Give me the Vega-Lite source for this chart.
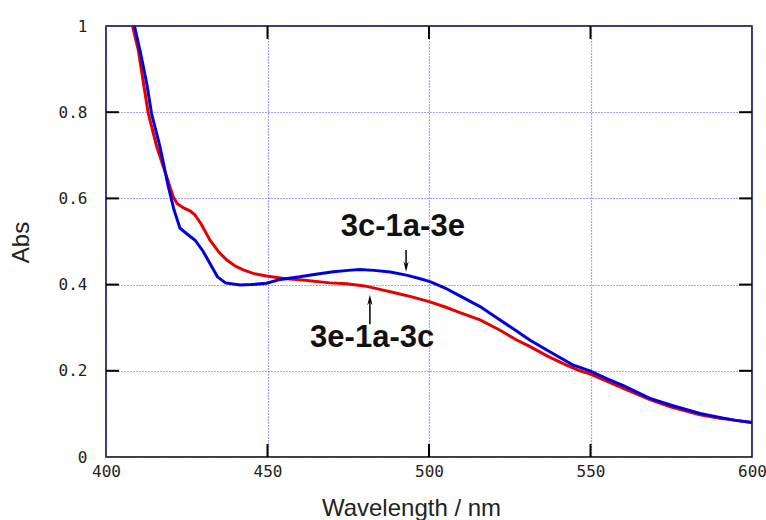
{
  "$schema": "https://vega.github.io/schema/vega-lite/v6.json",
  "autosize": "none",
  "width": 646,
  "height": 431,
  "padding": {"left": 106, "top": 26, "right": 14, "bottom": 63},
  "background": "white",
  "config": {
    "view": {"stroke": "black", "strokeWidth": 1.5},
    "axis": {
      "domain": false,
      "ticks": false,
      "labelFont": "DejaVu Sans Mono",
      "labelFontSize": 16,
      "labelColor": "#222",
      "labelFlush": false,
      "titleFont": "Liberation Sans",
      "titleFontSize": 24,
      "titleFontWeight": "normal",
      "titleColor": "#222"
    }
  },
  "datasets": {
    "spectra": [
      {"series": "3e-1a-3c", "wl": 408.2, "abs": 1.0},
      {"series": "3e-1a-3c", "wl": 410.0, "abs": 0.944},
      {"series": "3e-1a-3c", "wl": 411.6, "abs": 0.867},
      {"series": "3e-1a-3c", "wl": 413.1, "abs": 0.797},
      {"series": "3e-1a-3c", "wl": 415.7, "abs": 0.72},
      {"series": "3e-1a-3c", "wl": 418.8, "abs": 0.65},
      {"series": "3e-1a-3c", "wl": 420.8, "abs": 0.604},
      {"series": "3e-1a-3c", "wl": 422.0, "abs": 0.588},
      {"series": "3e-1a-3c", "wl": 424.0, "abs": 0.578},
      {"series": "3e-1a-3c", "wl": 426.0, "abs": 0.571},
      {"series": "3e-1a-3c", "wl": 427.5, "abs": 0.562},
      {"series": "3e-1a-3c", "wl": 429.5, "abs": 0.54},
      {"series": "3e-1a-3c", "wl": 432.2, "abs": 0.503},
      {"series": "3e-1a-3c", "wl": 435.0, "abs": 0.475},
      {"series": "3e-1a-3c", "wl": 437.4, "abs": 0.457},
      {"series": "3e-1a-3c", "wl": 440.0, "abs": 0.443},
      {"series": "3e-1a-3c", "wl": 442.5, "abs": 0.434},
      {"series": "3e-1a-3c", "wl": 446.0, "abs": 0.425},
      {"series": "3e-1a-3c", "wl": 449.7, "abs": 0.42},
      {"series": "3e-1a-3c", "wl": 455.0, "abs": 0.414},
      {"series": "3e-1a-3c", "wl": 460.0, "abs": 0.411},
      {"series": "3e-1a-3c", "wl": 469.3, "abs": 0.404},
      {"series": "3e-1a-3c", "wl": 474.5, "abs": 0.402},
      {"series": "3e-1a-3c", "wl": 480.0, "abs": 0.397},
      {"series": "3e-1a-3c", "wl": 484.8, "abs": 0.389},
      {"series": "3e-1a-3c", "wl": 490.0, "abs": 0.38},
      {"series": "3e-1a-3c", "wl": 495.0, "abs": 0.371},
      {"series": "3e-1a-3c", "wl": 500.3, "abs": 0.36},
      {"series": "3e-1a-3c", "wl": 505.0, "abs": 0.348},
      {"series": "3e-1a-3c", "wl": 510.0, "abs": 0.334},
      {"series": "3e-1a-3c", "wl": 515.8, "abs": 0.318},
      {"series": "3e-1a-3c", "wl": 522.0, "abs": 0.294},
      {"series": "3e-1a-3c", "wl": 527.0, "abs": 0.272},
      {"series": "3e-1a-3c", "wl": 531.3, "abs": 0.256},
      {"series": "3e-1a-3c", "wl": 537.0, "abs": 0.233},
      {"series": "3e-1a-3c", "wl": 542.6, "abs": 0.213},
      {"series": "3e-1a-3c", "wl": 546.7, "abs": 0.2},
      {"series": "3e-1a-3c", "wl": 549.8, "abs": 0.193},
      {"series": "3e-1a-3c", "wl": 555.0, "abs": 0.176},
      {"series": "3e-1a-3c", "wl": 560.0, "abs": 0.16},
      {"series": "3e-1a-3c", "wl": 568.4, "abs": 0.133},
      {"series": "3e-1a-3c", "wl": 575.0, "abs": 0.116},
      {"series": "3e-1a-3c", "wl": 583.9, "abs": 0.098},
      {"series": "3e-1a-3c", "wl": 590.0, "abs": 0.09},
      {"series": "3e-1a-3c", "wl": 595.0, "abs": 0.085},
      {"series": "3e-1a-3c", "wl": 600.0, "abs": 0.08},
      {"series": "3c-1a-3e", "wl": 408.8, "abs": 1.0},
      {"series": "3c-1a-3e", "wl": 410.5, "abs": 0.944},
      {"series": "3c-1a-3e", "wl": 412.6, "abs": 0.867},
      {"series": "3c-1a-3e", "wl": 414.1, "abs": 0.797},
      {"series": "3c-1a-3e", "wl": 416.7, "abs": 0.72},
      {"series": "3c-1a-3e", "wl": 419.3, "abs": 0.627},
      {"series": "3c-1a-3e", "wl": 421.0, "abs": 0.575},
      {"series": "3c-1a-3e", "wl": 422.9, "abs": 0.531},
      {"series": "3c-1a-3e", "wl": 425.0, "abs": 0.518},
      {"series": "3c-1a-3e", "wl": 427.6, "abs": 0.503},
      {"series": "3c-1a-3e", "wl": 430.0, "abs": 0.478},
      {"series": "3c-1a-3e", "wl": 432.2, "abs": 0.449},
      {"series": "3c-1a-3e", "wl": 434.5, "abs": 0.418},
      {"series": "3c-1a-3e", "wl": 437.0, "abs": 0.404},
      {"series": "3c-1a-3e", "wl": 441.5, "abs": 0.399},
      {"series": "3c-1a-3e", "wl": 445.0, "abs": 0.4},
      {"series": "3c-1a-3e", "wl": 449.7, "abs": 0.403},
      {"series": "3c-1a-3e", "wl": 454.0, "abs": 0.412},
      {"series": "3c-1a-3e", "wl": 460.0, "abs": 0.418},
      {"series": "3c-1a-3e", "wl": 465.0, "abs": 0.424},
      {"series": "3c-1a-3e", "wl": 470.4, "abs": 0.43},
      {"series": "3c-1a-3e", "wl": 475.0, "abs": 0.433},
      {"series": "3c-1a-3e", "wl": 478.6, "abs": 0.435},
      {"series": "3c-1a-3e", "wl": 483.0, "abs": 0.433},
      {"series": "3c-1a-3e", "wl": 488.0, "abs": 0.429},
      {"series": "3c-1a-3e", "wl": 493.0, "abs": 0.422},
      {"series": "3c-1a-3e", "wl": 497.0, "abs": 0.414},
      {"series": "3c-1a-3e", "wl": 500.3, "abs": 0.407},
      {"series": "3c-1a-3e", "wl": 505.0, "abs": 0.392},
      {"series": "3c-1a-3e", "wl": 510.0, "abs": 0.372},
      {"series": "3c-1a-3e", "wl": 515.8, "abs": 0.349},
      {"series": "3c-1a-3e", "wl": 522.0, "abs": 0.318},
      {"series": "3c-1a-3e", "wl": 527.0, "abs": 0.293},
      {"series": "3c-1a-3e", "wl": 531.3, "abs": 0.271},
      {"series": "3c-1a-3e", "wl": 537.0, "abs": 0.246},
      {"series": "3c-1a-3e", "wl": 544.7, "abs": 0.213},
      {"series": "3c-1a-3e", "wl": 549.8, "abs": 0.2},
      {"series": "3c-1a-3e", "wl": 555.0, "abs": 0.182},
      {"series": "3c-1a-3e", "wl": 560.0, "abs": 0.166},
      {"series": "3c-1a-3e", "wl": 568.4, "abs": 0.136},
      {"series": "3c-1a-3e", "wl": 575.0, "abs": 0.12},
      {"series": "3c-1a-3e", "wl": 583.9, "abs": 0.101},
      {"series": "3c-1a-3e", "wl": 590.0, "abs": 0.092},
      {"series": "3c-1a-3e", "wl": 595.0, "abs": 0.085},
      {"series": "3c-1a-3e", "wl": 600.0, "abs": 0.08}
    ],
    "tickmarks": [
      {"tx": 450, "tx2": 450, "ty": 0, "ty2": 0.03},
      {"tx": 500, "tx2": 500, "ty": 0, "ty2": 0.03},
      {"tx": 550, "tx2": 550, "ty": 0, "ty2": 0.03},
      {"tx": 450, "tx2": 450, "ty": 1, "ty2": 0.97},
      {"tx": 500, "tx2": 500, "ty": 1, "ty2": 0.97},
      {"tx": 550, "tx2": 550, "ty": 1, "ty2": 0.97},
      {"tx": 400, "tx2": 404, "ty": 0.2, "ty2": 0.2},
      {"tx": 400, "tx2": 404, "ty": 0.4, "ty2": 0.4},
      {"tx": 400, "tx2": 404, "ty": 0.6, "ty2": 0.6},
      {"tx": 400, "tx2": 404, "ty": 0.8, "ty2": 0.8},
      {"tx": 596, "tx2": 600, "ty": 0.2, "ty2": 0.2},
      {"tx": 596, "tx2": 600, "ty": 0.4, "ty2": 0.4},
      {"tx": 596, "tx2": 600, "ty": 0.6, "ty2": 0.6},
      {"tx": 596, "tx2": 600, "ty": 0.8, "ty2": 0.8}
    ],
    "annot": [
      {"label": "3c-1a-3e", "wl": 491.9, "abs": 0.534},
      {"label": "3e-1a-3c", "wl": 482.4, "abs": 0.276}
    ],
    "arrows": [
      {"wl": 492.9, "from": 0.48, "to": 0.445, "head": 0.442, "dir": "down"},
      {"wl": 481.7, "from": 0.308, "to": 0.36, "head": 0.364, "dir": "up"}
    ]
  },
  "layer": [
    {
      "data": {"name": "spectra"},
      "mark": {"type": "line", "strokeWidth": 3, "clip": true, "interpolate": "linear"},
      "encoding": {
        "x": {
          "field": "wl", "type": "quantitative",
          "scale": {"domain": [400, 600], "nice": false, "zero": false},
          "axis": {
            "orient": "bottom", "values": [400, 450, 500, 550, 600],
            "labelPadding": 6,
            "grid": true, "gridColor": "#4b4bff", "gridDash": [1, 2], "gridWidth": 1.2,
            "title": "Wavelength / nm", "titleX": 305, "titleY": 58,
            "titleBaseline": "alphabetic", "titleAlign": "center"
          }
        },
        "y": {
          "field": "abs", "type": "quantitative",
          "scale": {"domain": [0, 1], "nice": false},
          "axis": {
            "orient": "left", "values": [0, 0.2, 0.4, 0.6, 0.8, 1], "format": "~g",
            "labelPadding": 19,
            "grid": true, "gridColor": "#4b4bff", "gridDash": [1, 2], "gridWidth": 1.2,
            "title": "Abs", "titleX": -78, "titleY": 216, "titleAngle": -90,
            "titleBaseline": "alphabetic", "titleAlign": "center"
          }
        },
        "color": {
          "field": "series", "type": "nominal",
          "scale": {"domain": ["3e-1a-3c", "3c-1a-3e"], "range": ["#e60000", "#0000dd"]},
          "legend": null
        }
      }
    },
    {
      "data": {"name": "annot"},
      "mark": {"type": "text", "font": "Liberation Sans", "fontWeight": "bold", "fontSize": 31, "align": "center", "baseline": "middle", "color": "#111"},
      "encoding": {
        "x": {"field": "wl", "type": "quantitative"},
        "y": {"field": "abs", "type": "quantitative"},
        "text": {"field": "label"}
      }
    },
    {
      "data": {"name": "arrows"},
      "mark": {"type": "rule", "strokeWidth": 1.5, "color": "black"},
      "encoding": {
        "x": {"field": "wl", "type": "quantitative"},
        "y": {"field": "from", "type": "quantitative"},
        "y2": {"field": "to"}
      }
    },
    {
      "data": {"name": "arrows"},
      "mark": {"type": "point", "filled": true, "color": "black", "size": 110, "opacity": 1},
      "encoding": {
        "x": {"field": "wl", "type": "quantitative"},
        "y": {"field": "head", "type": "quantitative"},
        "shape": {
          "field": "dir", "type": "nominal",
          "scale": {"domain": ["down", "up"], "range": ["M-0.5,-1L0,1L0.5,-1L0,-0.3Z", "M-0.5,1L0,-1L0.5,1L0,0.3Z"]},
          "legend": null
        }
      }
    },
    {
      "data": {"name": "tickmarks"},
      "mark": {"type": "rule", "strokeWidth": 2, "color": "#000000", "opacity": 1},
      "encoding": {
        "x": {"field": "tx", "type": "quantitative"},
        "x2": {"field": "tx2"},
        "y": {"field": "ty", "type": "quantitative"},
        "y2": {"field": "ty2"}
      }
    }
  ]
}
